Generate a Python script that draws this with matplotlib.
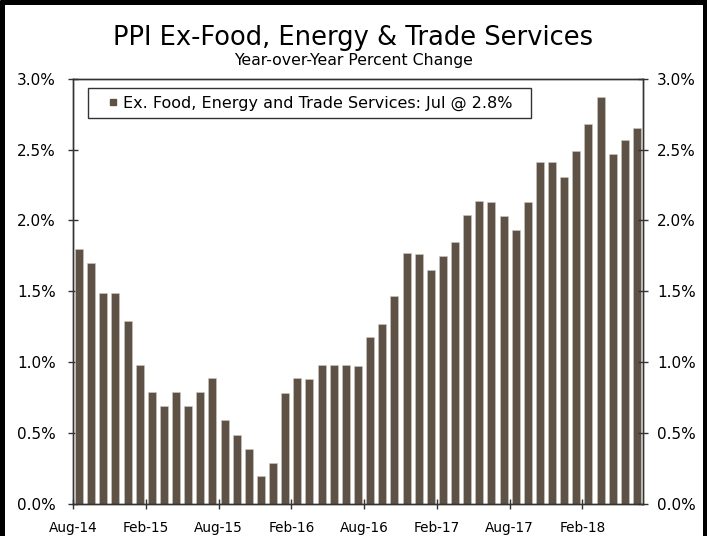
import matplotlib
matplotlib.use("Agg")
import matplotlib.pyplot as plt
import numpy as np
from matplotlib.lines import Line2D
from matplotlib.patches import Rectangle

months = ["Aug-14","Sep-14","Oct-14","Nov-14","Dec-14","Jan-15",
          "Feb-15","Mar-15","Apr-15","May-15","Jun-15","Jul-15",
          "Aug-15","Sep-15","Oct-15","Nov-15","Dec-15","Jan-16",
          "Feb-16","Mar-16","Apr-16","May-16","Jun-16","Jul-16",
          "Aug-16","Sep-16","Oct-16","Nov-16","Dec-16","Jan-17",
          "Feb-17","Mar-17","Apr-17","May-17","Jun-17","Jul-17",
          "Aug-17","Sep-17","Oct-17","Nov-17","Dec-17","Jan-18",
          "Feb-18","Mar-18","Apr-18","May-18","Jun-18"]
values = [1.80, 1.70, 1.49, 1.49, 1.29, 0.98,
          0.79, 0.69, 0.79, 0.69, 0.79, 0.89,
          0.59, 0.49, 0.39, 0.20, 0.29, 0.78,
          0.89, 0.88, 0.98, 0.98, 0.98, 0.97,
          1.18, 1.27, 1.47, 1.77, 1.76, 1.65,
          1.75, 1.85, 2.04, 2.14, 2.13, 2.03,
          1.93, 2.13, 2.41, 2.41, 2.31, 2.49,
          2.68, 2.87, 2.47, 2.57, 2.65]
tick_labels = ["Aug-14","Feb-15","Aug-15","Feb-16","Aug-16","Feb-17","Aug-17","Feb-18"]
legend_label = "Ex. Food, Energy and Trade Services: Jul @ 2.8%"
title = "PPI Ex-Food, Energy & Trade Services"
subtitle = "Year-over-Year Percent Change"

bar_color = "#5e5246"
spine_color = "#333333"
plt.rcParams['font.family'] = ['DejaVu Sans']

W, H = 707, 536
fig = plt.figure(figsize=(W/100, H/100), dpi=100)
ax = fig.add_axes([73/W, 1-504/H, (643-73)/W, (504-78.7)/H])

x = np.arange(len(values))
ax.bar(x, values, width=0.66, color=bar_color, edgecolor="#cfc8c0", linewidth=0.4,
       zorder=2)
ax.set_xlim(-0.5, len(values) - 0.5)
ax.set_ylim(0, 3.0)

tick_pos = [months.index(t) - 0.5 for t in tick_labels]
ax.set_xticks(tick_pos)
ax.set_xticklabels(tick_labels, fontsize=9.8)
yt = np.arange(0, 3.01, 0.5)
ylabels = [f"{v:.1f}%" for v in yt]
ax.set_yticks(yt)
ax.set_yticklabels(ylabels, fontsize=11)
ax.tick_params(axis='x', direction='inout', length=7, width=1, color=spine_color, pad=9)
ax.tick_params(axis='y', direction='inout', length=7.2, width=1, color=spine_color, pad=8.6)

ax2 = ax.twinx()
ax2.set_ylim(0, 3.0)
ax2.set_yticks(yt)
ax2.set_yticklabels(ylabels, fontsize=11)
ax2.tick_params(axis='y', direction='inout', length=7.2, width=1, color=spine_color, pad=6.5)

for a in (ax, ax2):
    for s in a.spines.values():
        s.set_color(spine_color)
        s.set_linewidth(1)

# legend (entry without frame) + its box
handle = Line2D([], [], linestyle='none', marker='s', markersize=4.4,
                markerfacecolor=bar_color, markeredgecolor=bar_color)
leg = ax2.legend([handle], [legend_label], loc='upper left',
                 bbox_to_anchor=(14/570, 1 - 11.3/425.3), fontsize=11.5,
                 frameon=False, handlelength=2.55, handletextpad=-0.68,
                 borderpad=0.36, borderaxespad=0)
fig.add_artist(Rectangle((87.5/W, 1-117.7/H), (530.5-87.5)/W, (117.7-88)/H,
                         transform=fig.transFigure, facecolor='white',
                         edgecolor=spine_color, linewidth=1, zorder=3))
leg.set_zorder(6)
ax2.set_zorder(5)
ax2.patch.set_visible(False)

fig.text(0.5, 1-38/H, title, ha='center', va='center', fontsize=18.5)
fig.text(0.5, 1-61/H, subtitle, ha='center', va='center', fontsize=11.3)

# figure border (left, right, top)
for xs, ys in [([0.0035, 0.0035], [0, 1]), ([0.9965, 0.9965], [0, 1]), ([0, 1], [0.9955, 0.9955])]:
    fig.add_artist(Line2D(xs, ys, transform=fig.transFigure, color='black',
                          linewidth=3.6, solid_capstyle='butt'))

fig.savefig("out.png", dpi=100)
